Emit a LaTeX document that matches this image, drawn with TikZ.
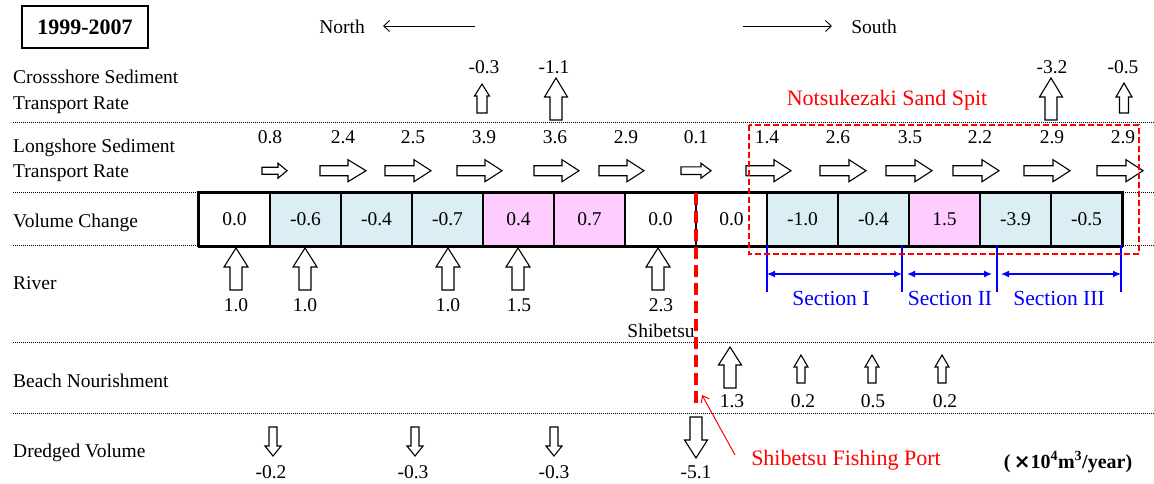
\documentclass[tikz,border=0pt]{standalone}
\usepackage{fontspec}
\setmainfont{Liberation Serif}
\newfontfamily\symfont{DejaVu Sans}
\usetikzlibrary{arrows.meta}
\definecolor{cellblue}{HTML}{DAEEF3}
\definecolor{cellpink}{HTML}{FFCCFF}
% block arrows: right, up, down
\newcommand\RArr[6]{\draw[blk] (#1,#3-#4) -- (#2-#6,#3-#4) -- (#2-#6,#3-#5) -- (#2,#3) -- (#2-#6,#3+#5) -- (#2-#6,#3+#4) -- (#1,#3+#4) -- cycle;}
\newcommand\UArr[6]{\draw[blk] (#1-#4,#3) -- (#1-#4,#2+#6) -- (#1-#5,#2+#6) -- (#1,#2) -- (#1+#5,#2+#6) -- (#1+#4,#2+#6) -- (#1+#4,#3) -- cycle;}
\newcommand\DArr[6]{\draw[blk] (#1-#4,#3) -- (#1-#4,#2-#6) -- (#1-#5,#2-#6) -- (#1,#2) -- (#1+#5,#2-#6) -- (#1+#4,#2-#6) -- (#1+#4,#3) -- cycle;}
\tikzset{
  txt/.style={inner sep=0pt, font=\fontsize{19.5}{22}\selectfont, anchor=base},
  rowlabel/.style={txt, anchor=base west},
  blk/.style={draw=black, fill=white, line width=1.1pt, line join=miter},
  dotline/.style={line width=0.9pt, dash pattern=on 0.9pt off 1.1pt},
  cell/.style={draw=black, line width=1.6pt, minimum width=71pt, minimum height=52.5pt, inner sep=0pt, font=\fontsize{19.5}{22}\selectfont},
  redlbl/.style={txt, text=red, font=\fontsize{22}{26}\selectfont},
  bluelbl/.style={txt, text=blue, font=\fontsize{21.5}{26}\selectfont},
  secline/.style={blue, line width=1.3pt},
  secarrow/.style={blue, line width=1.3pt, {Latex[length=8pt,width=7pt]}-{Latex[length=8pt,width=7pt]}},
  dirarrow/.style={line width=0.9pt, -{Straight Barb[length=6pt,width=11pt]}},
}
\begin{document}
\begin{tikzpicture}[x=1pt,y=-1pt]
\useasboundingbox (0,0) rectangle (1154,483);

% title box
\node[draw, line width=1.5pt, minimum width=126pt, minimum height=42pt, inner sep=0pt,
      font=\fontsize{22}{26}\selectfont\bfseries] (title) at (85,27) {1999-2007};

% direction
\node[txt] (north) at (342,33) {North};
\node[txt] (south) at (874,33) {South};
\coordinate (nA) at (475,26); \coordinate (nB) at (383,26);
\coordinate (sA) at (743,26); \coordinate (sB) at (832,26);
\draw[dirarrow] (nA) -- (nB);
\draw[dirarrow] (sA) -- (sB);

% dotted separators
\foreach \yy/\nm in {122/d1, 192.7/d2, 245/d3, 342/d4, 413/d5}{
  \coordinate (\nm L) at (13,\yy); \coordinate (\nm R) at (1154,\yy);
  \draw[dotline] (\nm L) -- (\nm R);
}

% row labels
\node[rowlabel] (lab1a) at (13,83) {Crossshore Sediment};
\node[rowlabel] (lab1b) at (13,109) {Transport Rate};
\node[rowlabel] (lab2a) at (13,152) {Longshore Sediment};
\node[rowlabel] (lab2b) at (13,177) {Transport Rate};
\node[rowlabel] (lab3) at (13,227) {Volume Change};
\node[rowlabel] (lab4) at (13,289) {River};
\node[rowlabel] (lab5) at (13,387) {Beach Nourishment};
\node[rowlabel] (lab6) at (13,457) {Dredged Volume};

% crossshore
\UArr{482}{84}{113}{5}{7.5}{12}
\UArr{556}{78}{120}{6}{11.5}{19}
\UArr{1051}{78}{120}{6}{11.5}{19}
\UArr{1124}{83}{113}{4.5}{8}{14}
\node[txt] (cs1) at (484,73) {-0.3};
\node[txt] (cs2) at (554,73) {-1.1};
\node[txt] (cs3) at (1052,73) {-3.2};
\node[txt] (cs4) at (1123,73) {-0.5};

\node[redlbl] (spit) at (887,105) {Notsukezaki Sand Spit};

% longshore
\RArr{262}{287}{170.7}{3.5}{7.5}{9}
\RArr{320}{366}{170.7}{5}{11}{18}
\RArr{385}{431}{170.7}{5}{11}{17}
\RArr{457}{502}{170.7}{5}{11}{17}
\RArr{534}{579}{170.7}{5}{11}{17}
\RArr{599}{644}{170.7}{5}{11}{17}
\RArr{681}{711}{170.7}{3.8}{7.5}{10}
\RArr{746}{791}{170.7}{5}{11}{17}
\RArr{820}{866}{170.7}{5}{11}{17}
\RArr{886}{932}{170.7}{5}{11}{17}
\RArr{953}{999}{170.7}{5}{11}{17}
\RArr{1024}{1070}{170.7}{5}{11}{17}
\RArr{1097}{1143}{170.7}{5}{11}{17}
\foreach \xx/\vv [count=\i] in {270/0.8, 343/2.4, 413/2.5, 484/3.9, 555/3.6, 626/2.9, 696/0.1, 767/1.4, 838/2.6, 910/3.5, 980/2.2, 1052/2.9, 1123/2.9}{
  \node[txt] (ls\i) at (\xx,143) {\vv};
}

% volume change cells
\foreach \vv/\ff [count=\i from 0] in {0.0/white, -0.6/cellblue, -0.4/cellblue, -0.7/cellblue, 0.4/cellpink, 0.7/cellpink, 0.0/white, 0.0/white, -1.0/cellblue, -0.4/cellblue, 1.5/cellpink, -3.9/cellblue, -0.5/cellblue}{
  \node[cell, fill=\ff] (c\i) at ({234.5+71*\i},219.25) {\vv};
}
\draw[line width=2pt] (c0.north west) rectangle (c12.south east);
\draw[line width=3pt] (c0.south west) -- (c12.south east);

% river
\foreach \xx/\vv [count=\i] in {236/1.0, 305/1.0, 448/1.0, 518/1.5, 658/2.3}{
  \UArr{\xx}{248}{290}{6}{12}{19}
}
\foreach \xx/\vv [count=\i] in {236/1.0, 305/1.0, 448/1.0, 519/1.5, 661/2.3}{
  \node[txt] (rv\i) at (\xx,311) {\vv};
}
\node[txt] (shib) at (661,337) {Shibetsu};

% sections
\coordinate (s1t) at (767,245); \coordinate (s1b) at (767,292);
\coordinate (s2t) at (902,245); \coordinate (s2b) at (902,292);
\coordinate (s3t) at (997,245); \coordinate (s3b) at (997,292);
\coordinate (s4t) at (1121,245); \coordinate (s4b) at (1121,292);
\draw[secline] (s1t) -- (s1b);
\draw[secline] (s2t) -- (s2b);
\draw[secline] (s3t) -- (s3b);
\draw[secline] (s4t) -- (s4b);
\coordinate (a1l) at (767,274); \coordinate (a1r) at (902,274);
\coordinate (a2l) at (907,274); \coordinate (a2r) at (992,274);
\coordinate (a3l) at (1001,274); \coordinate (a3r) at (1121,274);
\draw[secarrow] (a1l) -- (a1r);
\draw[secarrow] (a2l) -- (a2r);
\draw[secarrow] (a3l) -- (a3r);
\node[bluelbl] (sec1) at (831,305) {Section I};
\node[bluelbl] (sec2) at (950,305) {Section II};
\node[bluelbl] (sec3) at (1059,305) {Section III};

% beach nourishment
\UArr{730}{347}{388}{6}{11.5}{18}
\UArr{801}{355}{383}{4}{7}{12}
\UArr{872}{355}{383}{4}{7}{12}
\UArr{942}{355}{383}{4}{7}{12}
\node[txt] (bn1) at (732,407) {1.3};
\node[txt] (bn2) at (803,407) {0.2};
\node[txt] (bn3) at (873,407) {0.5};
\node[txt] (bn4) at (945,407) {0.2};

% dredged
\DArr{273}{456}{427}{4}{8}{10}
\DArr{415}{456}{427}{4}{8}{10}
\DArr{554}{456}{427}{4}{8}{10}
\DArr{696}{458}{417}{6}{11.5}{18}
\node[txt] (dv1) at (271,478) {-0.2};
\node[txt] (dv2) at (413,478) {-0.3};
\node[txt] (dv3) at (554,478) {-0.3};
\node[txt] (dv4) at (696,478) {-5.1};

% red spit box and port line
\draw[red, line width=1.2pt, dash pattern=on 6pt off 3pt] (749,125) rectangle (1139,254);
\coordinate (pt) at (696,193); \coordinate (pb) at (696,405);
\draw[red, line width=4pt, dash pattern=on 12pt off 6pt] (pt) -- (pb);

\node[redlbl] (port) at (846,465) {Shibetsu Fishing Port};
\coordinate (ptail) at (735,455); \coordinate (phead) at (702,395);
\draw[red, line width=1pt, -{Straight Barb[length=6pt,width=9pt]}] (ptail) -- (phead);

\node[txt, font=\fontsize{20}{24}\selectfont\bfseries] (unit) at (1068,468) {(\,{\symfont\bfseries ×}10\textsuperscript{4}m\textsuperscript{3}/year)};
\end{tikzpicture}
\end{document}
